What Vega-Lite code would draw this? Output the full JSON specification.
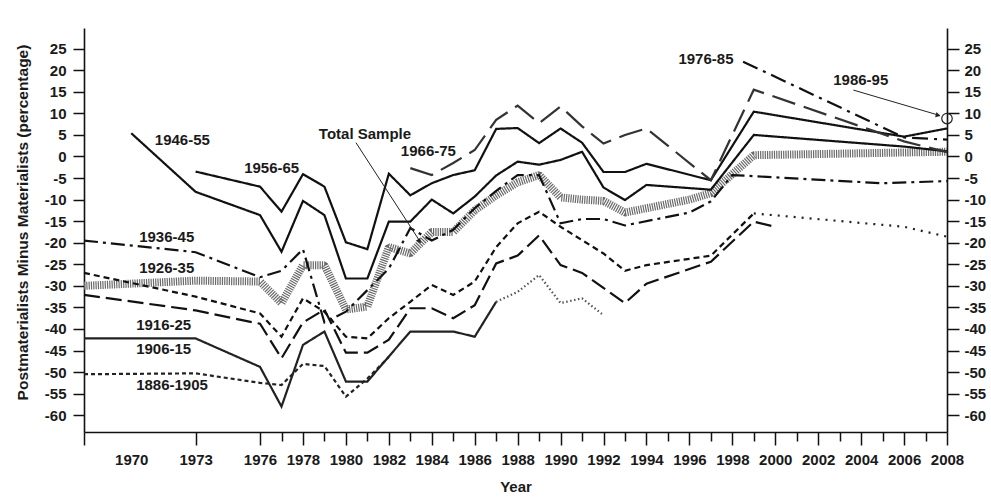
{
  "$schema": "https://vega.github.io/schema/vega-lite/v6.json",
  "width": 863,
  "height": 404,
  "autosize": "none",
  "padding": {"left": 84, "top": 28, "right": 44, "bottom": 66},
  "background": "white",
  "config": {
    "view": {"stroke": null},
    "font": "Liberation Sans",
    "axis": {
      "grid": false,
      "domainColor": "#111",
      "domainWidth": 1.6,
      "tickColor": "#111",
      "tickWidth": 1.5,
      "labelFont": "Liberation Sans",
      "labelFontWeight": "bold",
      "labelFontSize": 15,
      "labelColor": "#1a1a1a",
      "titleFont": "Liberation Sans",
      "titleFontWeight": "bold",
      "titleFontSize": 15,
      "titleColor": "#1a1a1a",
      "labelOverlap": false,
      "labelFlush": false
    }
  },
  "datasets": {
    "total": [
      {"year": 1967.8, "value": -30}, {"year": 1973, "value": -28.8}, {"year": 1976, "value": -29},
      {"year": 1977, "value": -34}, {"year": 1978, "value": -25.2}, {"year": 1979, "value": -25.2},
      {"year": 1980, "value": -35.5}, {"year": 1981, "value": -34.8}, {"year": 1982, "value": -21},
      {"year": 1983, "value": -22.5}, {"year": 1984, "value": -17.5}, {"year": 1985, "value": -17.5},
      {"year": 1986, "value": -12.5}, {"year": 1987, "value": -9}, {"year": 1988, "value": -6},
      {"year": 1989, "value": -4.3}, {"year": 1990, "value": -9.5}, {"year": 1991, "value": -10},
      {"year": 1992, "value": -10.3}, {"year": 1993, "value": -13}, {"year": 1994, "value": -12},
      {"year": 1995, "value": -11}, {"year": 1996, "value": -10}, {"year": 1997, "value": -8.5},
      {"year": 1999, "value": 0.3}, {"year": 2008, "value": 1.1}
    ],
    "cohorts": [
      {"series": "1946-55", "year": 1970, "value": 5.4}, {"series": "1946-55", "year": 1973, "value": -8.2},
      {"series": "1946-55", "year": 1976, "value": -13.6}, {"series": "1946-55", "year": 1977, "value": -22.1},
      {"series": "1946-55", "year": 1978, "value": -10.3}, {"series": "1946-55", "year": 1979, "value": -13.6},
      {"series": "1946-55", "year": 1980, "value": -28.3}, {"series": "1946-55", "year": 1981, "value": -28.3},
      {"series": "1946-55", "year": 1982, "value": -15.1}, {"series": "1946-55", "year": 1983, "value": -15.1},
      {"series": "1946-55", "year": 1984, "value": -10}, {"series": "1946-55", "year": 1985, "value": -13.2},
      {"series": "1946-55", "year": 1986, "value": -9.3}, {"series": "1946-55", "year": 1987, "value": -4.4},
      {"series": "1946-55", "year": 1988, "value": -1.2}, {"series": "1946-55", "year": 1989, "value": -1.9},
      {"series": "1946-55", "year": 1990, "value": -0.8}, {"series": "1946-55", "year": 1991, "value": 1.1},
      {"series": "1946-55", "year": 1992, "value": -7.2}, {"series": "1946-55", "year": 1993, "value": -10.1},
      {"series": "1946-55", "year": 1994, "value": -6.6}, {"series": "1946-55", "year": 1997, "value": -7.7},
      {"series": "1946-55", "year": 1999, "value": 5}, {"series": "1946-55", "year": 2006, "value": 2.3},
      {"series": "1946-55", "year": 2008, "value": 1.2},

      {"series": "1956-65", "year": 1973, "value": -3.5}, {"series": "1956-65", "year": 1976, "value": -7},
      {"series": "1956-65", "year": 1977, "value": -12.8}, {"series": "1956-65", "year": 1978, "value": -4.1},
      {"series": "1956-65", "year": 1979, "value": -7}, {"series": "1956-65", "year": 1980, "value": -19.9},
      {"series": "1956-65", "year": 1981, "value": -21.5}, {"series": "1956-65", "year": 1982, "value": -4},
      {"series": "1956-65", "year": 1983, "value": -9}, {"series": "1956-65", "year": 1984, "value": -6.2},
      {"series": "1956-65", "year": 1985, "value": -4.3}, {"series": "1956-65", "year": 1986, "value": -3.2},
      {"series": "1956-65", "year": 1987, "value": 6.4}, {"series": "1956-65", "year": 1988, "value": 6.6},
      {"series": "1956-65", "year": 1989, "value": 3.1}, {"series": "1956-65", "year": 1990, "value": 6.5},
      {"series": "1956-65", "year": 1991, "value": 3.2}, {"series": "1956-65", "year": 1992, "value": -3.6},
      {"series": "1956-65", "year": 1993, "value": -3.6}, {"series": "1956-65", "year": 1994, "value": -1.7},
      {"series": "1956-65", "year": 1997, "value": -5.5}, {"series": "1956-65", "year": 1999, "value": 10.4},
      {"series": "1956-65", "year": 2006, "value": 4.6}, {"series": "1956-65", "year": 2008, "value": 6.5},

      {"series": "1966-75", "year": 1983, "value": -2.7}, {"series": "1966-75", "year": 1984, "value": -4.3},
      {"series": "1966-75", "year": 1985, "value": -1.5}, {"series": "1966-75", "year": 1986, "value": 1.5},
      {"series": "1966-75", "year": 1987, "value": 8.5}, {"series": "1966-75", "year": 1988, "value": 11.8},
      {"series": "1966-75", "year": 1989, "value": 7.7}, {"series": "1966-75", "year": 1990, "value": 11.6},
      {"series": "1966-75", "year": 1991, "value": 7}, {"series": "1966-75", "year": 1992, "value": 3},
      {"series": "1966-75", "year": 1993, "value": 5}, {"series": "1966-75", "year": 1994, "value": 6.5},
      {"series": "1966-75", "year": 1997, "value": -5.5}, {"series": "1966-75", "year": 1999, "value": 15.5},
      {"series": "1966-75", "year": 2006, "value": 3.5}, {"series": "1966-75", "year": 2008, "value": 1},

      {"series": "1976-85", "year": 1998.5, "value": 22}, {"series": "1976-85", "year": 2006, "value": 4.4},
      {"series": "1976-85", "year": 2008, "value": 3.9},

      {"series": "1936-45", "year": 1967.8, "value": -19.5}, {"series": "1936-45", "year": 1973, "value": -22.2},
      {"series": "1936-45", "year": 1976, "value": -28}, {"series": "1936-45", "year": 1977, "value": -26.5},
      {"series": "1936-45", "year": 1978, "value": -21.5}, {"series": "1936-45", "year": 1979, "value": -38.5},
      {"series": "1936-45", "year": 1980, "value": -36}, {"series": "1936-45", "year": 1981, "value": -31},
      {"series": "1936-45", "year": 1982, "value": -26}, {"series": "1936-45", "year": 1983, "value": -16.6},
      {"series": "1936-45", "year": 1984, "value": -19.5}, {"series": "1936-45", "year": 1985, "value": -17},
      {"series": "1936-45", "year": 1986, "value": -12}, {"series": "1936-45", "year": 1987, "value": -8},
      {"series": "1936-45", "year": 1988, "value": -4.3}, {"series": "1936-45", "year": 1989, "value": -4.3},
      {"series": "1936-45", "year": 1990, "value": -15.5}, {"series": "1936-45", "year": 1991, "value": -14.5},
      {"series": "1936-45", "year": 1992, "value": -14.5}, {"series": "1936-45", "year": 1993, "value": -16},
      {"series": "1936-45", "year": 1996, "value": -13}, {"series": "1936-45", "year": 1997, "value": -10.4},
      {"series": "1936-45", "year": 1998, "value": -4.3}, {"series": "1936-45", "year": 2005, "value": -6.2},
      {"series": "1936-45", "year": 2008, "value": -5.7},

      {"series": "1926-35", "year": 1967.8, "value": -27}, {"series": "1926-35", "year": 1973, "value": -32.5},
      {"series": "1926-35", "year": 1976, "value": -36.4}, {"series": "1926-35", "year": 1977, "value": -41.8},
      {"series": "1926-35", "year": 1978, "value": -32.9}, {"series": "1926-35", "year": 1979, "value": -36},
      {"series": "1926-35", "year": 1980, "value": -41.8}, {"series": "1926-35", "year": 1981, "value": -42.2},
      {"series": "1926-35", "year": 1982, "value": -37.5}, {"series": "1926-35", "year": 1983, "value": -33.7},
      {"series": "1926-35", "year": 1984, "value": -29.8}, {"series": "1926-35", "year": 1985, "value": -32.1},
      {"series": "1926-35", "year": 1986, "value": -29}, {"series": "1926-35", "year": 1987, "value": -21},
      {"series": "1926-35", "year": 1988, "value": -15.5}, {"series": "1926-35", "year": 1989, "value": -12.8},
      {"series": "1926-35", "year": 1990, "value": -16.3}, {"series": "1926-35", "year": 1991, "value": -19.4},
      {"series": "1926-35", "year": 1992, "value": -22.5}, {"series": "1926-35", "year": 1993, "value": -26.5},
      {"series": "1926-35", "year": 1994, "value": -25.2}, {"series": "1926-35", "year": 1997, "value": -23},
      {"series": "1926-35", "year": 1999, "value": -13.2},

      {"series": "1926-35 later", "year": 1999, "value": -13.2}, {"series": "1926-35 later", "year": 2006, "value": -16.3},
      {"series": "1926-35 later", "year": 2008, "value": -18.6},

      {"series": "1916-25", "year": 1967.8, "value": -32.1}, {"series": "1916-25", "year": 1973, "value": -35.7},
      {"series": "1916-25", "year": 1976, "value": -38.8}, {"series": "1916-25", "year": 1977, "value": -46.8},
      {"series": "1916-25", "year": 1978, "value": -38.5}, {"series": "1916-25", "year": 1979, "value": -35.5},
      {"series": "1916-25", "year": 1980, "value": -45.5}, {"series": "1916-25", "year": 1981, "value": -45.5},
      {"series": "1916-25", "year": 1982, "value": -42.5}, {"series": "1916-25", "year": 1983, "value": -35.2},
      {"series": "1916-25", "year": 1984, "value": -35.2}, {"series": "1916-25", "year": 1985, "value": -37.5},
      {"series": "1916-25", "year": 1986, "value": -34.5}, {"series": "1916-25", "year": 1987, "value": -24.8},
      {"series": "1916-25", "year": 1988, "value": -23}, {"series": "1916-25", "year": 1989, "value": -18.3},
      {"series": "1916-25", "year": 1990, "value": -25.2}, {"series": "1916-25", "year": 1991, "value": -27},
      {"series": "1916-25", "year": 1993, "value": -34}, {"series": "1916-25", "year": 1994, "value": -29.5},
      {"series": "1916-25", "year": 1997, "value": -24.4}, {"series": "1916-25", "year": 1999, "value": -15.1},
      {"series": "1916-25", "year": 2000, "value": -16.3},

      {"series": "1906-15", "year": 1967.8, "value": -42.2}, {"series": "1906-15", "year": 1973, "value": -42.2},
      {"series": "1906-15", "year": 1976, "value": -48.8}, {"series": "1906-15", "year": 1977, "value": -58},
      {"series": "1906-15", "year": 1978, "value": -43.7}, {"series": "1906-15", "year": 1979, "value": -40.6},
      {"series": "1906-15", "year": 1980, "value": -52.2}, {"series": "1906-15", "year": 1981, "value": -52.2},
      {"series": "1906-15", "year": 1983, "value": -40.6}, {"series": "1906-15", "year": 1985, "value": -40.6},
      {"series": "1906-15", "year": 1986, "value": -41.8}, {"series": "1906-15", "year": 1987, "value": -33.7},

      {"series": "1906-15 later", "year": 1987, "value": -33.7}, {"series": "1906-15 later", "year": 1988, "value": -31.4},
      {"series": "1906-15 later", "year": 1989, "value": -27.5}, {"series": "1906-15 later", "year": 1990, "value": -34},
      {"series": "1906-15 later", "year": 1991, "value": -32.9}, {"series": "1906-15 later", "year": 1992, "value": -36.8},

      {"series": "1886-1905", "year": 1967.8, "value": -50.5}, {"series": "1886-1905", "year": 1973, "value": -50.3},
      {"series": "1886-1905", "year": 1976, "value": -52.5}, {"series": "1886-1905", "year": 1977, "value": -53},
      {"series": "1886-1905", "year": 1978, "value": -48.1}, {"series": "1886-1905", "year": 1979, "value": -48.6},
      {"series": "1886-1905", "year": 1980, "value": -55.7}, {"series": "1886-1905", "year": 1981, "value": -51.5},
      {"series": "1886-1905", "year": 1982, "value": -46.5}
    ],
    "point9505": [{"series": "1986-95", "year": 2008, "value": 8.8}],
    "labels": [
      {"text": "1946-55", "year": 1971.1, "value": 3.8},
      {"text": "1956-65", "year": 1975.26, "value": -2.6},
      {"text": "Total Sample", "year": 1978.74, "value": 5.3},
      {"text": "1966-75", "year": 1982.56, "value": 1.3},
      {"text": "1976-85", "year": 1995.49, "value": 22.6},
      {"text": "1986-95", "year": 2002.7, "value": 17.7},
      {"text": "1936-45", "year": 1970.37, "value": -18.6},
      {"text": "1926-35", "year": 1970.37, "value": -25.9},
      {"text": "1916-25", "year": 1970.23, "value": -39},
      {"text": "1906-15", "year": 1970.23, "value": -44.7},
      {"text": "1886-1905", "year": 1970.23, "value": -52.9}
    ],
    "arrows": [
      {"label": "Total Sample", "year": 1980.47, "value": 3.2, "year2": 1983.49, "value2": -20},
      {"label": "1986-95", "year": 2003.64, "value": 15.4, "year2": 2007.67, "value2": 9.5}
    ],
    "arrowheads": [
      {"label": "Total Sample", "year": 1983.4, "value": -19.5, "angle": 147},
      {"label": "1986-95", "year": 2007.55, "value": 9.6, "angle": 106}
    ]
  },
  "layer": [
    {
      "encoding": {
        "x": {
          "field": "year", "type": "quantitative",
          "scale": {"domain": [1967.8, 2008], "nice": false, "zero": false},
          "axis": {
            "title": "Year",
            "values": [1967.8, 1970, 1973, 1976, 1977, 1978, 1979, 1980, 1981, 1982, 1983, 1984, 1985, 1986, 1987, 1988, 1989, 1990, 1991, 1992, 1993, 1994, 1995, 1996, 1997, 1998, 1999, 2000, 2001, 2002, 2003, 2004, 2005, 2006, 2007, 2008],
            "labelExpr": "(datum.value < 1968 || (datum.value > 1976 && datum.value % 2 == 1)) ? '' : '' + datum.value",
            "tickSize": {"condition": {"test": "datum.value > 1976 && datum.value % 2 == 1", "value": 9}, "value": 13},
            "tickOpacity": {"condition": {"test": "datum.value == 1970", "value": 0}, "value": 1},
            "labelPadding": 7,
            "titlePadding": 12
          }
        },
        "y": {
          "field": "value", "type": "quantitative",
          "scale": {"domain": [-63.9, 29.8], "nice": false, "zero": false},
          "axis": {
            "title": "Postmaterialists Minus Materialists (percentage)",
            "titleFontSize": 15.5,
            "titleY": 194,
            "values": [-60, -55, -50, -45, -40, -35, -30, -25, -20, -15, -10, -5, 0, 5, 10, 15, 20, 25],
            "labelExpr": "'' + datum.value",
            "tickSize": 11,
            "labelPadding": 7,
            "titlePadding": 14
          }
        }
      },
      "layer": [
        {
          "data": {"name": "total"},
          "mark": {"type": "line", "strokeWidth": 8, "color": "#6a6a6a", "strokeDash": [1.2, 1.1], "strokeCap": "butt", "strokeJoin": "bevel"}
        },
        {
          "data": {"name": "cohorts"},
          "mark": {"type": "line", "strokeCap": "butt", "strokeJoin": "miter"},
          "encoding": {
            "detail": {"field": "series"},
            "color": {
              "field": "series", "type": "nominal", "legend": null,
              "scale": {
                "domain": ["1946-55", "1956-65", "1966-75", "1976-85", "1936-45", "1926-35", "1926-35 later", "1916-25", "1906-15", "1906-15 later", "1886-1905"],
                "range": ["#111", "#111", "#333", "#111", "#111", "#111", "#222", "#111", "#222", "#555", "#222"]
              }
            },
            "strokeWidth": {
              "field": "series", "type": "nominal", "legend": null,
              "scale": {
                "domain": ["1946-55", "1956-65", "1966-75", "1976-85", "1936-45", "1926-35", "1926-35 later", "1916-25", "1906-15", "1906-15 later", "1886-1905"],
                "range": [2.2, 2.2, 1.4, 3.2, 2, 2.2, 2.4, 2.2, 1.2, 1.3, 1.3]
              }
            },
            "strokeDash": {
              "field": "series", "type": "nominal", "legend": null,
              "scale": {
                "domain": ["1946-55", "1956-65", "1966-75", "1976-85", "1936-45", "1926-35", "1926-35 later", "1916-25", "1906-15", "1906-15 later", "1886-1905"],
                "range": [[1, 0], [1, 0], [24, 9], [16, 6, 3, 6], [14, 5, 3, 5], [6, 4], [2, 6], [16, 6], [1, 0], [1.5, 2.5], [4, 3]]
              }
            }
          }
        },
        {
          "data": {"name": "arrows"},
          "mark": {"type": "rule", "color": "#222", "strokeWidth": 1},
          "encoding": {
            "x2": {"field": "year2"},
            "y2": {"field": "value2"}
          }
        },
        {
          "data": {"name": "arrowheads"},
          "mark": {"type": "point", "shape": "triangle", "filled": true, "color": "#222", "size": 30, "opacity": 1},
          "encoding": {
            "angle": {"field": "angle", "type": "quantitative", "scale": null}
          }
        },
        {
          "data": {"name": "point9505"},
          "mark": {"type": "point", "shape": "circle", "filled": false, "color": "#222", "size": 110, "strokeWidth": 1.2, "opacity": 1}
        },
        {
          "data": {"name": "labels"},
          "mark": {"type": "text", "align": "left", "baseline": "middle", "font": "Liberation Sans", "fontWeight": "bold", "fontSize": 15, "color": "#1a1a1a"},
          "encoding": {
            "text": {"field": "text"}
          }
        }
      ]
    },
    {
      "data": {"name": "point9505"},
      "mark": {"type": "rule", "opacity": 0},
      "encoding": {
        "y": {
          "field": "value", "type": "quantitative",
          "scale": {"domain": [-63.9, 29.8], "nice": false, "zero": false},
          "axis": {
            "orient": "right",
            "title": null,
            "values": [-60, -55, -50, -45, -40, -35, -30, -25, -20, -15, -10, -5, 0, 5, 10, 15, 20, 25],
            "labelExpr": "'' + datum.value",
            "tickSize": 12,
            "labelPadding": 5
          }
        }
      }
    }
  ],
  "resolve": {"scale": {"y": "independent"}}
}
